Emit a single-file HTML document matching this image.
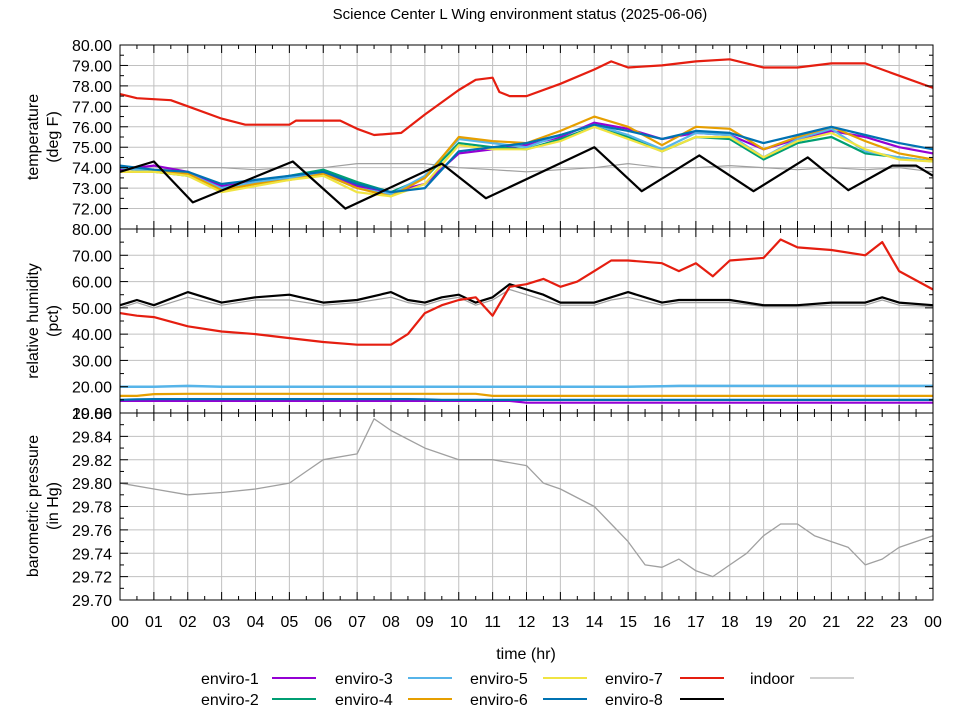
<!DOCTYPE html>
<html><head><meta charset="utf-8"><style>
body{margin:0;background:#fff;}
svg text{font-family:"Liberation Sans","DejaVu Sans",sans-serif;fill:#000;}
</style></head><body>
<svg id="chart" width="960" height="720" viewBox="0 0 960 720" xmlns="http://www.w3.org/2000/svg">
<rect width="960" height="720" fill="#fff"/>
<text x="520" y="19" font-size="15" text-anchor="middle">Science Center L Wing environment status (2025-06-06)</text>
<g id="grid"></g><g id="series"></g><g id="axes"></g><g id="legend"></g>
</svg>
<script>
// ---- data ----
const hours = [0,1,2,3,4,5,6,7,8,9,10,11,12,13,14,15,16,17,18,19,20,21,22,23,24];
const tempE1 = [73.9,74.1,73.8,73.1,73.3,73.5,73.8,73.1,72.8,73.2,74.7,74.9,75.1,75.5,76.2,75.9,75.4,75.7,75.6,74.9,75.4,75.8,75.5,75.0,74.7];
const tempE2 = [74.0,73.8,73.6,73.0,73.3,73.6,73.9,73.3,72.8,73.5,75.2,75.0,74.9,75.4,76.0,75.5,74.8,75.5,75.4,74.4,75.2,75.5,74.7,74.5,74.3];
const tempE3 = [74.0,73.8,73.7,73.0,73.3,73.5,73.7,73.0,72.7,73.6,75.4,75.2,75.0,75.6,76.1,75.6,74.9,75.7,75.6,74.5,75.4,75.9,74.8,74.5,74.3];
const tempE4 = [73.8,73.8,73.7,72.9,73.2,73.4,73.7,73.0,72.6,73.5,75.5,75.3,75.2,75.8,76.5,76.0,75.1,76.0,75.9,74.9,75.5,76.0,75.3,74.7,74.4];
const tempE5 = [73.8,73.8,73.6,72.8,73.1,73.4,73.6,72.8,72.6,73.2,75.1,74.9,74.9,75.3,76.0,75.4,74.8,75.5,75.5,74.5,75.3,75.7,74.9,74.4,74.3];
const tempE6 = [74.1,73.9,73.8,73.2,73.4,73.6,73.8,73.2,72.8,73.0,74.8,75.0,75.2,75.6,76.1,75.8,75.4,75.8,75.7,75.2,75.6,76.0,75.6,75.2,74.9];
const tempE7Times = [0,0.5,1.5,2,3,3.7,5,5.2,6.5,7,7.5,8.3,9,10,10.5,11,11.2,11.5,12,13,14,14.5,15,16,17,18,19,20,21,22,23,24];
const tempE7 = [77.6,77.4,77.3,77.0,76.4,76.1,76.1,76.3,76.3,75.9,75.6,75.7,76.6,77.8,78.3,78.4,77.7,77.5,77.5,78.1,78.8,79.2,78.9,79.0,79.2,79.3,78.9,78.9,79.1,79.1,78.5,77.9];
const tempE8Times = [0,1,2.15,5.1,6.65,9.5,10.8,14.0,15.4,17.1,18.7,20.3,21.5,22.8,23.5,24];
const tempE8 = [73.8,74.3,72.3,74.3,72.0,74.2,72.5,75.0,72.85,74.6,72.85,74.5,72.9,74.1,74.1,73.6];
const tempIndoor = [73.9,73.9,74.0,74.0,73.9,74.0,74.0,74.2,74.2,74.2,74.0,73.9,73.8,73.9,74.0,74.2,74.0,74.0,74.1,74.0,73.9,74.0,73.9,74.0,73.8];

const rhTimes = [0,0.5,1,2,3,4,5,6,7,8,8.5,9,9.5,10,10.5,11,11.5,12,12.5,13,13.5,14,14.5,15,16,16.5,17,17.5,18,19,19.5,20,21,22,22.5,23,24];
const rhE7 = [48,47,46.5,43,41,40,38.5,37,36,36,40,48,51,53,54,47,58,59,61,58,60,64,68,68,67,64,67,62,68,69,76,73,72,70,75,64,57];
const rhE8 = [51,53,51,56,52,54,55,52,53,56,53,52,54,55,52,54,59,57,55,52,52,52,54,56,52,53,53,53,53,51,51,51,52,52,54,52,51];
const rhIndoor = [50,52,50,54,51,53,53,51,52,54,52,51,53,54,51,53,57,55,53,51,51,51,53,54,51,52,52,52,52,50.5,50.5,50.5,51,51,53,51,50.5];
const rhE3 = [20.0,20.0,20.0,20.3,20.0,20.0,20.0,20.0,20.0,20.0,20.0,20.0,20.0,20.0,20.0,20.0,20.0,20.0,20.0,20.0,20.0,20.0,20.0,20.0,20.2,20.3,20.3,20.3,20.3,20.3,20.3,20.3,20.3,20.3,20.3,20.3,20.3];
const rhE4 = [16.5,16.5,17.2,17.3,17.3,17.3,17.3,17.3,17.3,17.3,17.3,17.3,17.3,17.3,17.3,16.5,16.5,16.5,16.5,16.5,16.5,16.5,16.5,16.5,16.5,16.5,16.5,16.5,16.5,16.5,16.5,16.5,16.5,16.5,16.5,16.5,16.5];
const rhE6 = [15.0,15.2,15.3,15.3,15.3,15.3,15.3,15.3,15.3,15.3,15.3,15.2,15.0,15.0,15.0,15.0,15.0,15.0,15.0,15.0,15.0,15.0,15.0,15.0,15.0,15.0,15.0,15.0,15.0,15.0,15.0,15.0,15.0,15.0,15.0,15.0,15.0];
const rhE1 = [14.6,14.6,14.6,14.6,14.6,14.6,14.6,14.6,14.6,14.6,14.6,14.6,14.6,14.6,14.6,14.6,14.6,13.9,13.9,13.9,13.9,13.9,13.9,13.9,13.9,13.9,13.9,13.9,13.9,13.9,13.9,13.9,13.9,13.9,13.9,13.9,13.9];

const presTimes = [0,1,2,3,4,5,5.5,6,7,7.5,8,9,10,11,12,12.5,13,14,14.5,15,15.5,16,16.5,17,17.5,18,18.5,19,19.5,20,20.5,21,21.5,22,22.5,23,24];
const presIndoor = [29.800,29.795,29.790,29.792,29.795,29.800,29.810,29.820,29.825,29.855,29.845,29.830,29.820,29.820,29.815,29.800,29.795,29.780,29.765,29.750,29.730,29.728,29.735,29.725,29.720,29.730,29.740,29.755,29.765,29.765,29.755,29.750,29.745,29.730,29.735,29.745,29.755];

const tempTicks = ["72.00","73.00","74.00","75.00","76.00","77.00","78.00","79.00","80.00"];
const rhTicks = ["10.00","20.00","30.00","40.00","50.00","60.00","70.00","80.00"];
const presTicks = ["29.70","29.72","29.74","29.76","29.78","29.80","29.82","29.84","29.86"];
const xTickLabels = ["00","01","02","03","04","05","06","07","08","09","10","11","12","13","14","15","16","17","18","19","20","21","22","23","00"];

// ---- layout ----
const X0=120, X1=933;
const x = h => X0 + (X1-X0)*h/24;
const P1={top:45,bot:229,min:71,max:80};
const P2={top:229,bot:413,min:10,max:80};
const P3={top:413,bot:600,min:29.70,max:29.86};
const yOf=(p,v)=>p.bot-(p.bot-p.top)*(v-p.min)/(p.max-p.min);
const NS="http://www.w3.org/2000/svg";
function mk(tag,attrs,parent){const e=document.createElementNS(NS,tag);for(const k in attrs)e.setAttribute(k,attrs[k]);parent.appendChild(e);return e;}
const grid=document.getElementById('grid'),ser=document.getElementById('series'),axes=document.getElementById('axes'),leg=document.getElementById('legend');

for(let h=0;h<=24;h++){
  if(h>0&&h<24){const g=mk('line',{x1:x(h),x2:x(h),y1:45,y2:600,stroke:'#c0c0c0','stroke-width':1},grid);
  
  }
  const t=mk('text',{x:x(h),y:627,'font-size':16,'text-anchor':'middle'},axes);
  t.textContent=xTickLabels[h];
  
  
}
function panel(p,ticks,name,minorStep){
  ticks.forEach(s=>{const v=parseFloat(s);const y=yOf(p,v);
    if(y>p.top+1&&y<p.bot-1){const g=mk('line',{x1:X0,x2:X1,y1:y,y2:y,stroke:'#c0c0c0','stroke-width':1},grid);
    
    }
    const t=mk('text',{x:112,y:y+6,'font-size':16,'text-anchor':'end'},axes);t.textContent=s;
    
    
    mk('line',{x1:X0,x2:X0+8,y1:y,y2:y,stroke:'#000'},axes);mk('line',{x1:X1,x2:X1-8,y1:y,y2:y,stroke:'#000'},axes);
    const y2=yOf(p,v+minorStep);if(y2>p.top){mk('line',{x1:X0,x2:X0+4,y1:y2,y2:y2,stroke:'#000'},axes);mk('line',{x1:X1,x2:X1-4,y1:y2,y2:y2,stroke:'#000'},axes);}
  });
  for(let h=0;h<=48;h++){const xx=x(h/2),l=h%2?4:8;
    mk('line',{x1:xx,x2:xx,y1:p.bot,y2:p.bot-l,stroke:'#000'},axes);mk('line',{x1:xx,x2:xx,y1:p.top,y2:p.top+l,stroke:'#000'},axes);}
  const r=mk('rect',{x:X0,y:p.top,width:X1-X0,height:p.bot-p.top,fill:'none',stroke:'#000','stroke-width':1},axes);
  
  
}
panel(P1,tempTicks,'temperature',0.5);
panel(P2,rhTicks,'humidity',5);
panel(P3,presTicks,'pressure',0.01);
[['temperature','(deg F)',137,'temperature-axis-title'],['relative humidity','(pct)',321,'humidity-axis-title'],['barometric pressure','(in Hg)',506,'pressure-axis-title']].forEach(a=>{
  const t=mk('text',{transform:`translate(38,${a[2]}) rotate(-90)`,'font-size':16,'text-anchor':'middle'},axes);t.textContent=a[0];
  
  
  const t2=mk('text',{transform:`translate(58,${a[2]}) rotate(-90)`,'font-size':16,'text-anchor':'middle'},axes);t2.textContent=a[1];
});
const xt=mk('text',{x:526,y:659,'font-size':16,'text-anchor':'middle'},axes);xt.textContent='time (hr)';



function line(p,times,vals,color,w,name){
  const pts=times.map((t,i)=>x(t).toFixed(1)+','+yOf(p,vals[i]).toFixed(1)).join(' ');
  const e=mk('polyline',{points:pts,fill:'none',stroke:color,'stroke-width':w,'stroke-linejoin':'round'},ser);
  
  
}
const C={e1:'#9400d3',e2:'#009e73',e3:'#56b4e9',e4:'#e69f00',e5:'#f0e442',e6:'#0072b2',e7:'#e51e10',e8:'#000',ind:'#a0a0a0'};
line(P1,hours,tempIndoor,C.ind,1.2,'indoor-temperature-line');
line(P1,hours,tempE1,C.e1,2.2,'enviro-1-temperature-line');
line(P1,hours,tempE2,C.e2,2.2,'enviro-2-temperature-line');
line(P1,hours,tempE3,C.e3,2.2,'enviro-3-temperature-line');
line(P1,hours,tempE4,C.e4,2.2,'enviro-4-temperature-line');
line(P1,hours,tempE5,C.e5,2.2,'enviro-5-temperature-line');
line(P1,hours,tempE6,C.e6,2.2,'enviro-6-temperature-line');
line(P1,tempE7Times,tempE7,C.e7,2.2,'enviro-7-temperature-line');
line(P1,tempE8Times,tempE8,C.e8,2.2,'enviro-8-temperature-line');
line(P2,rhTimes,rhIndoor,C.ind,1.2,'indoor-humidity-line');
line(P2,rhTimes,rhE8,C.e8,2.2,'enviro-8-humidity-line');
line(P2,rhTimes,rhE7,C.e7,2.2,'enviro-7-humidity-line');
line(P2,rhTimes,rhE3,C.e3,2.5,'enviro-3-humidity-line');
line(P2,rhTimes,rhE4,C.e4,2.2,'enviro-4-humidity-line');
line(P2,rhTimes,rhE1,C.e1,2.2,'enviro-1-humidity-line');
line(P2,rhTimes,rhE6,C.e6,2.2,'enviro-6-humidity-line');
line(P3,presTimes,presIndoor,C.ind,1.3,'indoor-pressure-line');

const legItems=[['enviro-1',C.e1,201,272,678],['enviro-2',C.e2,201,272,699],['enviro-3',C.e3,335,408,678],['enviro-4',C.e4,335,408,699],['enviro-5',C.e5,470,543,678],['enviro-6',C.e6,470,543,699],['enviro-7',C.e7,605,680,678],['enviro-8',C.e8,605,680,699],['indoor',C.ind,750,810,678]];
legItems.forEach(it=>{
  const g=mk('g',{},leg);
  
  
  const t=mk('text',{x:it[2],y:it[4]+6,'font-size':16},g);t.textContent=it[0];
  mk('line',{x1:it[3],x2:it[3]+44,y1:it[4],y2:it[4],stroke:it[1],'stroke-width':it[0]==='indoor'?1:2},g);
});
</script>
</body></html>
